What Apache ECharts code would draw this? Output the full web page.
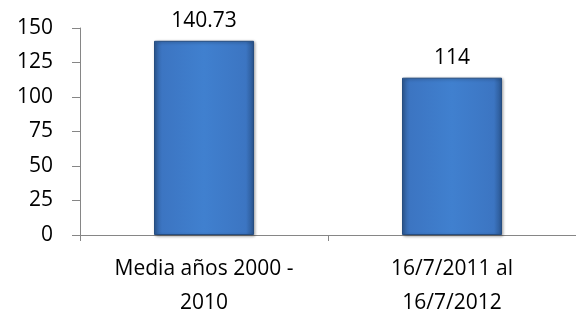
<!DOCTYPE html>
<html>
<head>
<meta charset="utf-8">
<script src="https://cdn.jsdelivr.net/npm/echarts@6/dist/echarts.min.js"></script>
<style>
  html, body { margin: 0; padding: 0; background: #fff; }
  #chart { width: 576px; height: 320px; }
</style>
</head>
<body>
<div id="chart"></div>
<script>
const categories = ["Media años 2000 -\n2010", "16/7/2011 al\n16/7/2012"];
const values = [140.73, 114];
const valueLabels = ["140.73", "114"];

const chart = echarts.init(document.getElementById("chart"));

const barFill = new echarts.graphic.LinearGradient(0, 0, 1, 0, [
  { offset: 0, color: "#2f5e9c" },
  { offset: 0.08, color: "#3c75c2" },
  { offset: 0.5, color: "#4080cf" },
  { offset: 0.92, color: "#3c75c2" },
  { offset: 1, color: "#2a5690" },
]);

chart.setOption({
  animation: false,
  textStyle: { fontFamily: "Open Sans", color: "#000" },
  grid: { left: 80, right: 0, top: 28, bottom: 82 },
  xAxis: {
    type: "category",
    data: categories,
    axisLine: { lineStyle: { color: "#868686", width: 1 } },
    axisTick: { show: true, length: 6, lineStyle: { color: "#868686" } },
    axisLabel: { fontSize: 21, color: "#000", margin: 17, lineHeight: 34, fontFamily: "Open Sans" },
  },
  yAxis: {
    type: "value",
    min: 0,
    max: 150,
    interval: 25,
    axisLine: { show: true, lineStyle: { color: "#868686", width: 1 } },
    axisTick: { show: true, length: 8, lineStyle: { color: "#868686" } },
    splitLine: { show: false },
    axisLabel: { fontSize: 21, color: "#000", margin: 27, fontFamily: "Open Sans" },
  },
  series: [
    {
      type: "bar",
      data: values,
      barWidth: 100,
      itemStyle: {
        color: barFill,
        borderColor: "#264d80",
        borderWidth: 1,
        shadowColor: "rgba(0,0,0,0.35)",
        shadowBlur: 3,
        shadowOffsetX: 1,
        shadowOffsetY: 1,
      },
      label: {
        show: true,
        position: "top",
        distance: 9,
        fontSize: 21,
        color: "#000",
        fontFamily: "Open Sans",
        formatter: (p) => valueLabels[p.dataIndex],
      },
    },
  ],
});
</script>
</body>
</html>
